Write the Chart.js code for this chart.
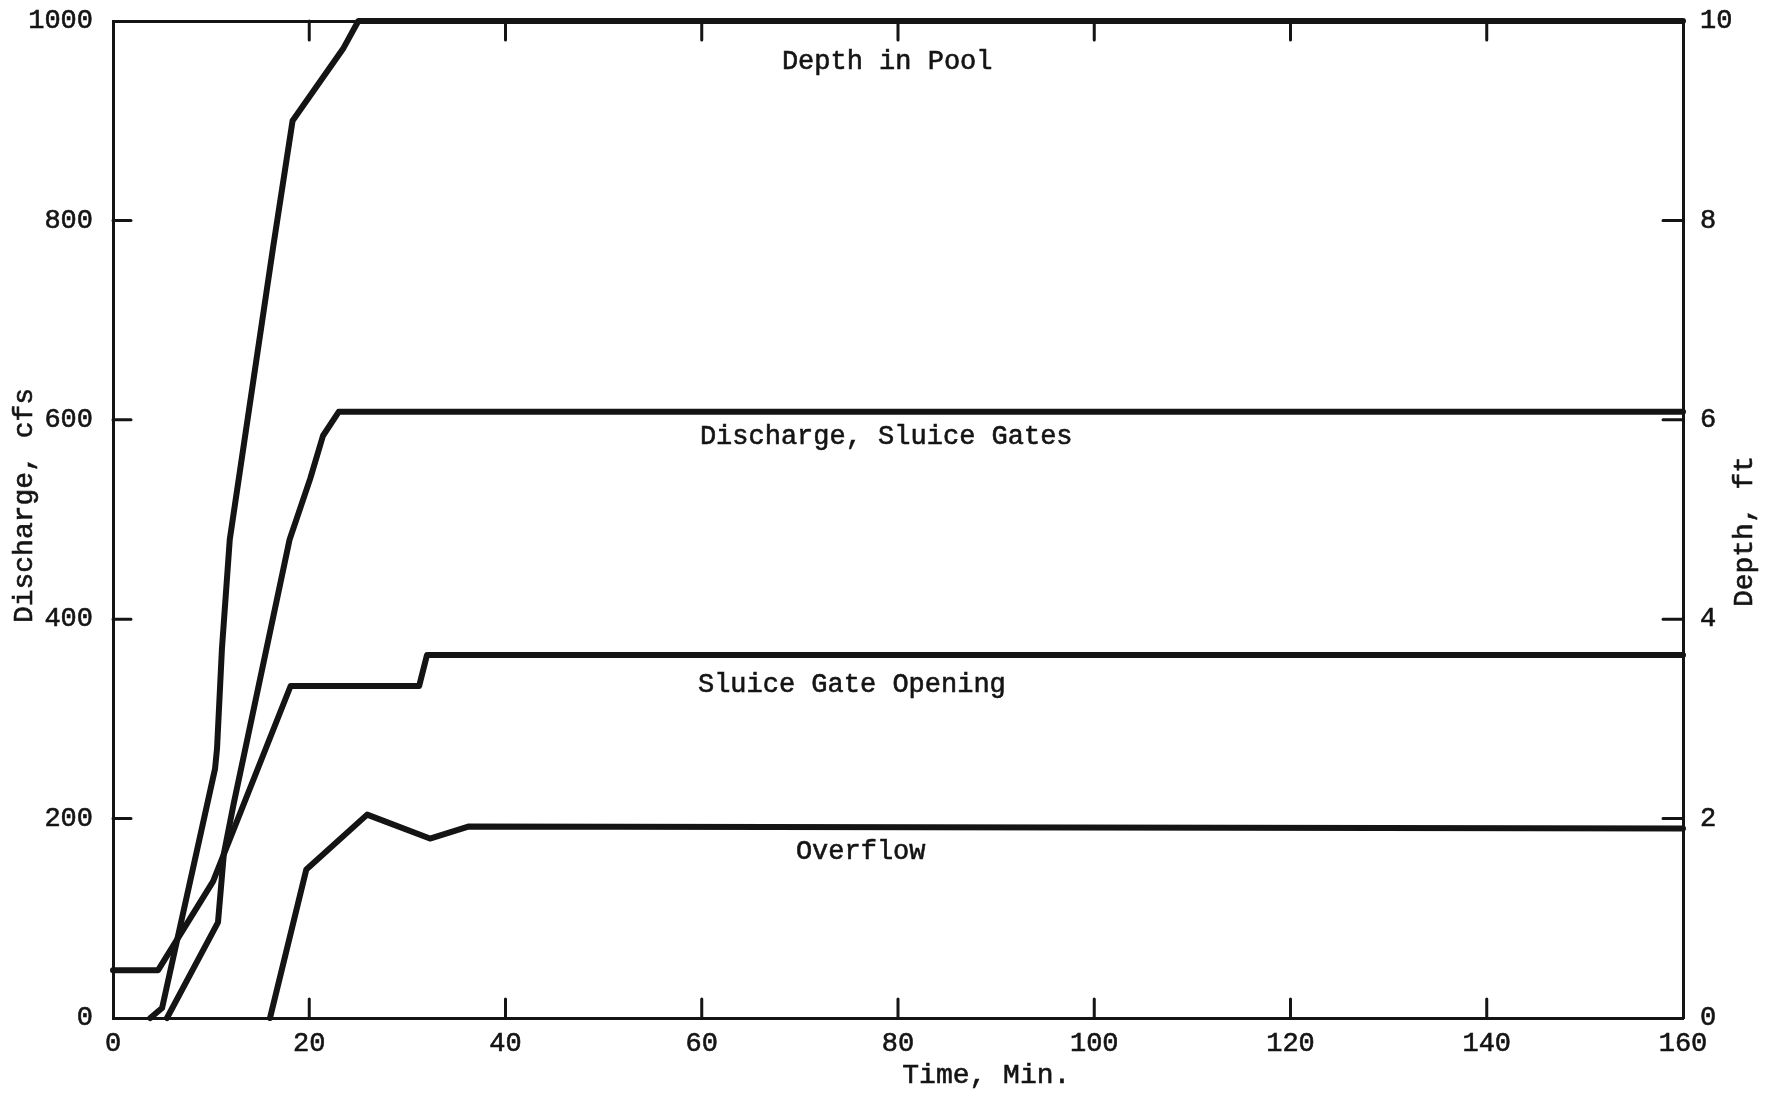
<!DOCTYPE html>
<html>
<head>
<meta charset="utf-8">
<title>Discharge and depth vs time</title>
<script src="https://cdn.jsdelivr.net/npm/chart.js@4.4.1/dist/chart.umd.min.js"></script>
<style>
  html, body { margin: 0; padding: 0; background: #fff; }
  #wrap { width: 1765px; height: 1094px; }
</style>
</head>
<body>
<div id="wrap"><canvas id="chart"></canvas></div>
<script>
// Values (time in minutes)
const depthTime = [3.8, 5.0, 10.4, 10.6, 11.1, 11.9, 16.3, 18.3, 23.5, 25.0, 160];
const depthFt   = [0, 0.1, 2.5, 2.7, 3.7, 4.8, 7.72, 9.0, 9.73, 10.0, 10.0];

const dischargeTime = [5.5, 6.1, 10.7, 11.3, 12.3, 18.0, 20.1, 21.4, 23.0, 160];
const dischargeCfs  = [0, 11, 96, 165, 215, 480, 541, 584, 608, 608];

const openingTime = [0, 4.6, 10.2, 18.1, 31.2, 32.0, 160];
const openingFt   = [0.48, 0.48, 1.37, 3.33, 3.33, 3.64, 3.64];

const overflowTime = [16.0, 19.7, 25.9, 32.3, 36.2, 160];
const overflowCfs  = [0, 149, 204, 180, 192, 190];

const timeTicks = [0, 20, 40, 60, 80, 100, 120, 140, 160];
const dischargeTicks = [0, 200, 400, 600, 800, 1000];
const depthTicks = [0, 2, 4, 6, 8, 10];

const INK = '#141414';
const FONT = "'Liberation Mono', 'DejaVu Sans Mono', monospace";

function toPoints(xs, ys) {
    return xs.map((x, i) => ({ x: x, y: ys[i] }));
}

function curve(label, xs, ys, axis) {
    return {
        label: label,
        data: toPoints(xs, ys),
        yAxisID: axis,
        borderColor: INK,
        borderWidth: 6,
        borderJoinStyle: 'round',
        borderCapStyle: 'round',
        pointRadius: 0,
        tension: 0,
        fill: false,
        clip: false
    };
}

// Fixed box sizes so the plot area sits where it is on the original
function fixBox(size) {
    return (s) => {
        if (s.isHorizontal()) {
            s.height = size;
        } else {
            s.width = size;
        }
        s.paddingTop = 0;
        s.paddingBottom = 0;
        s.paddingLeft = 0;
        s.paddingRight = 0;
    };
}

// Labels of the curves, placed in data units (time, cfs)
const curveNotes = [
    ['Depth in Pool', 78.9, 959],
    ['Discharge, Sluice Gates', 78.8, 583],
    ['Sluice Gate Opening', 75.3, 334],
    ['Overflow', 76.2, 167]
];

function inkText(ctx, text, x, y) {
    ctx.fillText(text, x, y);
    ctx.strokeText(text, x, y);
}

// Tick marks pointing into the plot, titles and curve labels
const decorations = {
    id: 'decorations',
    afterDraw(chart) {
        const { ctx, chartArea: a, scales } = chart;
        ctx.save();
        ctx.strokeStyle = INK;
        ctx.lineWidth = 3;
        ctx.lineCap = 'round';
        ctx.beginPath();
        for (const t of timeTicks.slice(1, -1)) {
            const x = scales.x.getPixelForValue(t);
            ctx.moveTo(x, a.bottom);
            ctx.lineTo(x, a.bottom - 19);
            ctx.moveTo(x, a.top);
            ctx.lineTo(x, a.top + 19);
        }
        for (const v of dischargeTicks.slice(1, -1)) {
            const y = scales.y.getPixelForValue(v);
            ctx.moveTo(a.left, y);
            ctx.lineTo(a.left + 18, y);
        }
        for (const v of depthTicks.slice(1, -1)) {
            const y = scales.y2.getPixelForValue(v);
            ctx.moveTo(a.right, y);
            ctx.lineTo(a.right - 20, y);
        }
        ctx.stroke();

        ctx.fillStyle = INK;
        ctx.lineWidth = 0.6;
        ctx.font = '27px ' + FONT;
        ctx.textAlign = 'center';
        ctx.textBaseline = 'middle';
        for (const [text, t, v] of curveNotes) {
            inkText(ctx, text, scales.x.getPixelForValue(t), scales.y.getPixelForValue(v));
        }

        // axis titles
        ctx.font = '28px ' + FONT;
        inkText(ctx, 'Time, Min.', scales.x.getPixelForValue(89), a.bottom + 58);

        ctx.save();
        ctx.translate(25, (a.top + a.bottom) / 2 - 14);
        ctx.rotate(-Math.PI / 2);
        inkText(ctx, 'Discharge, cfs', 0, 0);
        ctx.restore();

        ctx.save();
        ctx.translate(1745, (a.top + a.bottom) / 2 + 12);
        ctx.rotate(-Math.PI / 2);
        inkText(ctx, 'Depth, ft', 0, 0);
        ctx.restore();

        ctx.restore();
    }
};

const tickStyle = {
    font: { family: FONT, size: 27 },
    color: INK,
    textStrokeColor: INK,
    textStrokeWidth: 0.6,
    maxRotation: 0,
    callback: (v) => String(v)
};
const axisBorder = { display: true, color: INK, width: 3 };

new Chart(document.getElementById('chart'), {
    type: 'line',
    data: {
        datasets: [
            curve('Depth in Pool', depthTime, depthFt, 'y2'),
            curve('Discharge, Sluice Gates', dischargeTime, dischargeCfs, 'y'),
            curve('Sluice Gate Opening', openingTime, openingFt, 'y2'),
            curve('Overflow', overflowTime, overflowCfs, 'y')
        ]
    },
    options: {
        responsive: true,
        maintainAspectRatio: false,
        animation: false,
        layout: { padding: 0 },
        plugins: {
            legend: { display: false },
            tooltip: { enabled: false }
        },
        scales: {
            x: {
                type: 'linear',
                position: 'bottom',
                min: 0,
                max: 160,
                grid: { display: false },
                border: axisBorder,
                ticks: { ...tickStyle, padding: 2 },
                afterBuildTicks: (s) => { s.ticks = timeTicks.map(v => ({ value: v })); },
                afterFit: fixBox(76)
            },
            xTop: {
                type: 'linear',
                position: 'top',
                min: 0,
                max: 160,
                grid: { display: false },
                border: axisBorder,
                ticks: { display: false },
                afterFit: fixBox(21)
            },
            y: {
                position: 'left',
                min: 0,
                max: 1000,
                grid: { display: false },
                border: axisBorder,
                ticks: { ...tickStyle, padding: 12 },
                afterBuildTicks: (s) => { s.ticks = dischargeTicks.map(v => ({ value: v })); },
                afterFit: fixBox(113)
            },
            y2: {
                position: 'right',
                min: 0,
                max: 10,
                grid: { display: false },
                border: axisBorder,
                ticks: { ...tickStyle, padding: 9 },
                afterBuildTicks: (s) => { s.ticks = depthTicks.map(v => ({ value: v })); },
                afterFit: fixBox(82)
            }
        }
    },
    plugins: [decorations]
});
</script>
</body>
</html>
